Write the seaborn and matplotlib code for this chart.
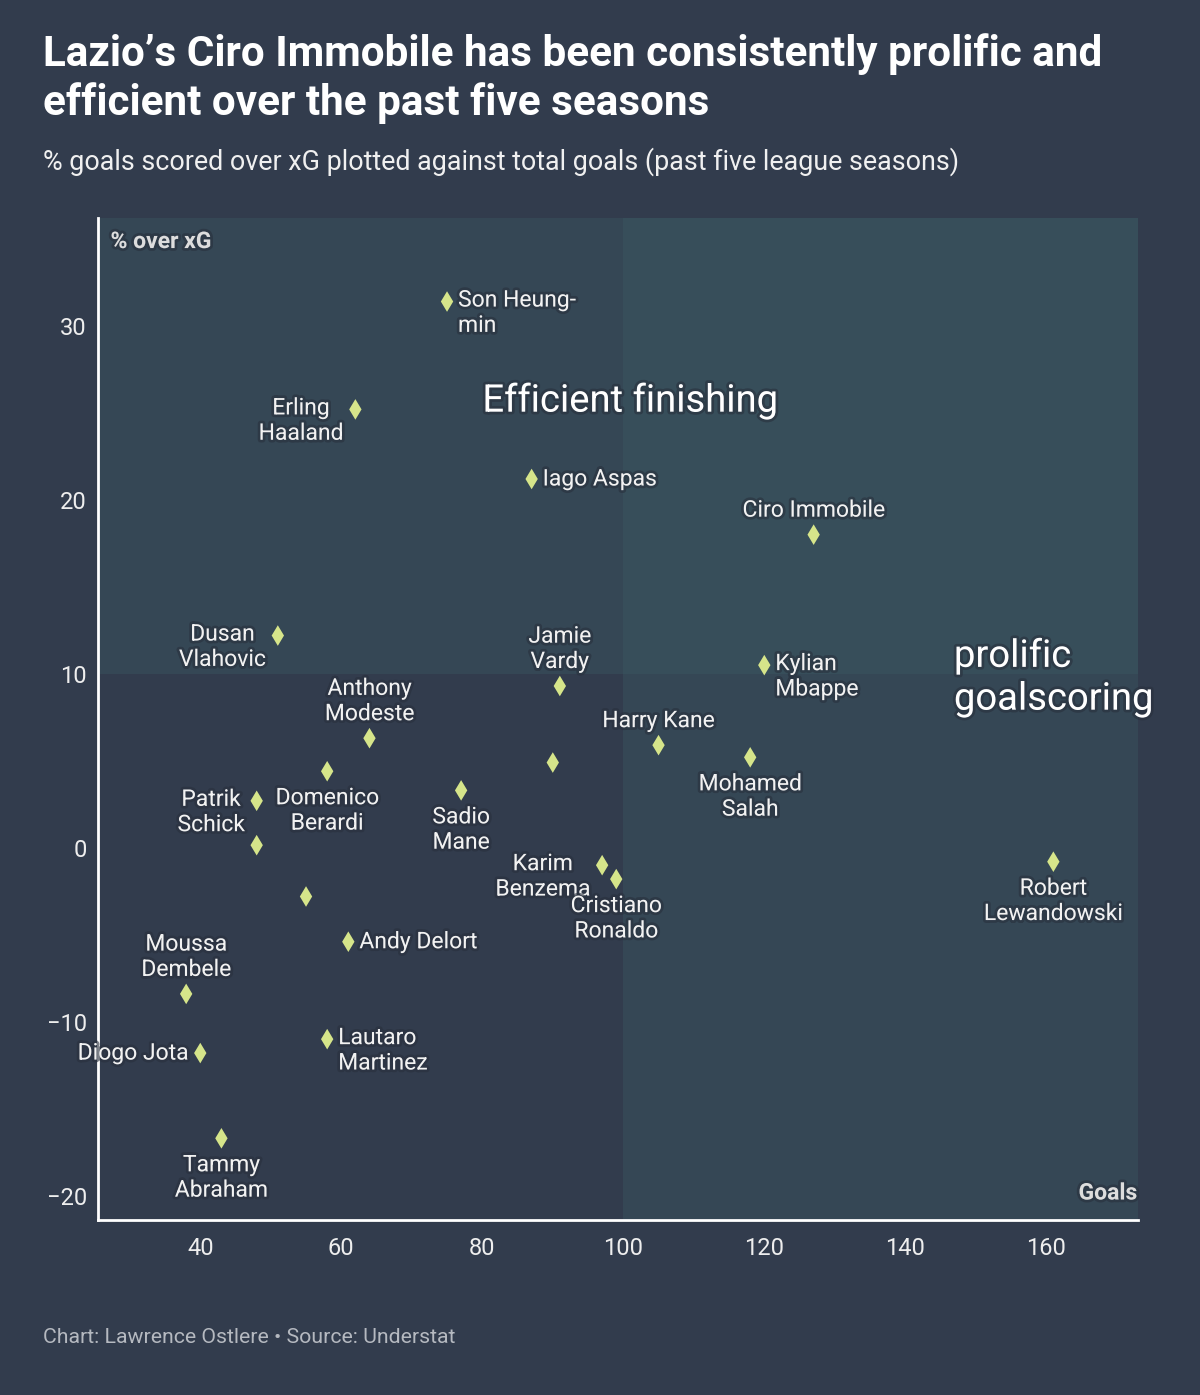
import pandas as pd
import numpy as np
import matplotlib
matplotlib.use("Agg")
import matplotlib.pyplot as plt
import matplotlib.patheffects as pe
import seaborn as sns

# player data
players = ["Son Heung-\nmin", "Erling\nHaaland", "Iago Aspas", "Ciro Immobile", "Dusan\nVlahovic",
           "Kylian\nMbappe", "Jamie\nVardy", "Anthony\nModeste", "Harry Kane", "Mohamed\nSalah",
           "", "Domenico\nBerardi", "Sadio\nMane", "Patrik\nSchick", "",
           "Karim\nBenzema", "Cristiano\nRonaldo", "Robert\nLewandowski", "", "Andy Delort",
           "Moussa\nDembele", "Lautaro\nMartinez", "Diogo Jota", "Tammy\nAbraham"]
goals = [75, 62, 87, 127, 51,
         120, 91, 64, 105, 118,
         90, 58, 77, 48, 48,
         97, 99, 161, 55, 61,
         38, 58, 40, 43]
pct_over_xg = [31.4, 25.2, 21.2, 18.0, 12.2,
               10.5, 9.3, 6.3, 5.9, 5.2,
               4.9, 4.4, 3.3, 2.7, 0.15,
               -1.0, -1.8, -0.8, -2.8, -5.4,
               -8.4, -11.0, -11.8, -16.7]
# where each label sits: 'l' left, 'r' right, 'a' above, 'b' below
label_side = ["r", "l", "r", "a", "l",
              "r", "a", "a", "a", "b",
              "", "b", "b", "l", "",
              "l", "b", "b", "", "r",
              "a", "r", "l", "b"]

xticks = [40, 60, 80, 100, 120, 140, 160]
yticks = [-20, -10, 0, 10, 20, 30]

df = pd.DataFrame({"player": players, "goals": goals, "pct": pct_over_xg, "side": label_side})

bg = "#323c4d"
shade = "#3b5d66"
marker_col = "#d6e58a"
glow = [pe.withStroke(linewidth=4, foreground="#28303d", alpha=0.6)]

sns.set_theme(style="white")
plt.rcParams["font.family"] = ["Roboto", "DejaVu Sans"]

fig = plt.figure(figsize=(12, 13.95), dpi=100, facecolor=bg)
ax = fig.add_axes([0.0817, 0.1254, 0.8666, 0.7183])
ax.set_facecolor(bg)

xmin, xmax = 25.5, 173
ymin, ymax = -21.4, 36.2
ax.axvspan(100, xmax, color=shade, alpha=0.35, lw=0, zorder=0)
ax.axhspan(10, ymax, color=shade, alpha=0.35, lw=0, zorder=0)

sns.scatterplot(data=df, x="goals", y="pct", marker="d", s=110, color=marker_col,
                edgecolor="none", ax=ax, zorder=3)

# (dx, dy, ha, va, multialignment) in pixels
offsets = {"r": (11, 13, "left", "top", "left"), "l": (-12, 13, "right", "top", "center"),
           "a": (0, 13, "center", "bottom", "center"), "b": (0, -15, "center", "top", "center")}
for _, row in df.iterrows():
    if not row["player"]:
        continue
    dx, dy, ha, va, ma = offsets[row["side"]]
    if "\n" not in row["player"] and row["side"] in ("r", "l"):
        dy, va = 0, "center"
    ax.annotate(row["player"], (row["goals"], row["pct"]), xytext=(dx, dy),
                textcoords="offset pixels", ha=ha, va=va, multialignment=ma,
                fontsize=16.5, color="#f2f2f2", linespacing=1.13, zorder=4, path_effects=glow)

ax.text(101, 25.7, "Efficient finishing", fontsize=27.5, color="white", ha="center", va="center",
        path_effects=glow, zorder=4)
ax.text(146.9, 9.8, "prolific\ngoalscoring", fontsize=27.5, color="white", ha="left", va="center",
        linespacing=1.2, path_effects=glow, zorder=4, clip_on=False)

ax.text(0.012, 0.988, "% over xG", transform=ax.transAxes, fontsize=16.5, fontweight="bold",
        color="#dddddd", ha="left", va="top", path_effects=glow)
ax.text(0.999, 0.027, "Goals", transform=ax.transAxes, fontsize=16.5, fontweight="bold",
        color="#dddddd", ha="right", va="center", path_effects=glow)

ax.set_xlim(xmin, xmax)
ax.set_ylim(ymin, ymax)
ax.set_xticks(xticks)
ax.set_yticks(yticks)
ax.set_xlabel("")
ax.set_ylabel("")
ax.tick_params(axis="both", length=0, labelsize=17, labelcolor="#eeeeee")
ax.tick_params(axis="x", pad=12)
ax.tick_params(axis="y", pad=8)
for s in ["top", "right"]:
    ax.spines[s].set_visible(False)
for s in ["left", "bottom"]:
    ax.spines[s].set_color("white")
    ax.spines[s].set_linewidth(2)

fig.text(0.036, 0.976, "Lazio’s Ciro Immobile has been consistently prolific and\nefficient over the past five seasons",
         fontsize=30.4, fontweight="bold", color="white", ha="left", va="top", linespacing=1.2)
fig.text(0.036, 0.884, "% goals scored over xG plotted against total goals (past five league seasons)",
         fontsize=19.4, color="#f0f0f0", ha="left", va="center")
fig.text(0.036, 0.041, "Chart: Lawrence Ostlere • Source: Understat", fontsize=15.3,
         color="#b5b9c0", ha="left", va="center")

fig.savefig("out.png", dpi=100, facecolor=bg)
